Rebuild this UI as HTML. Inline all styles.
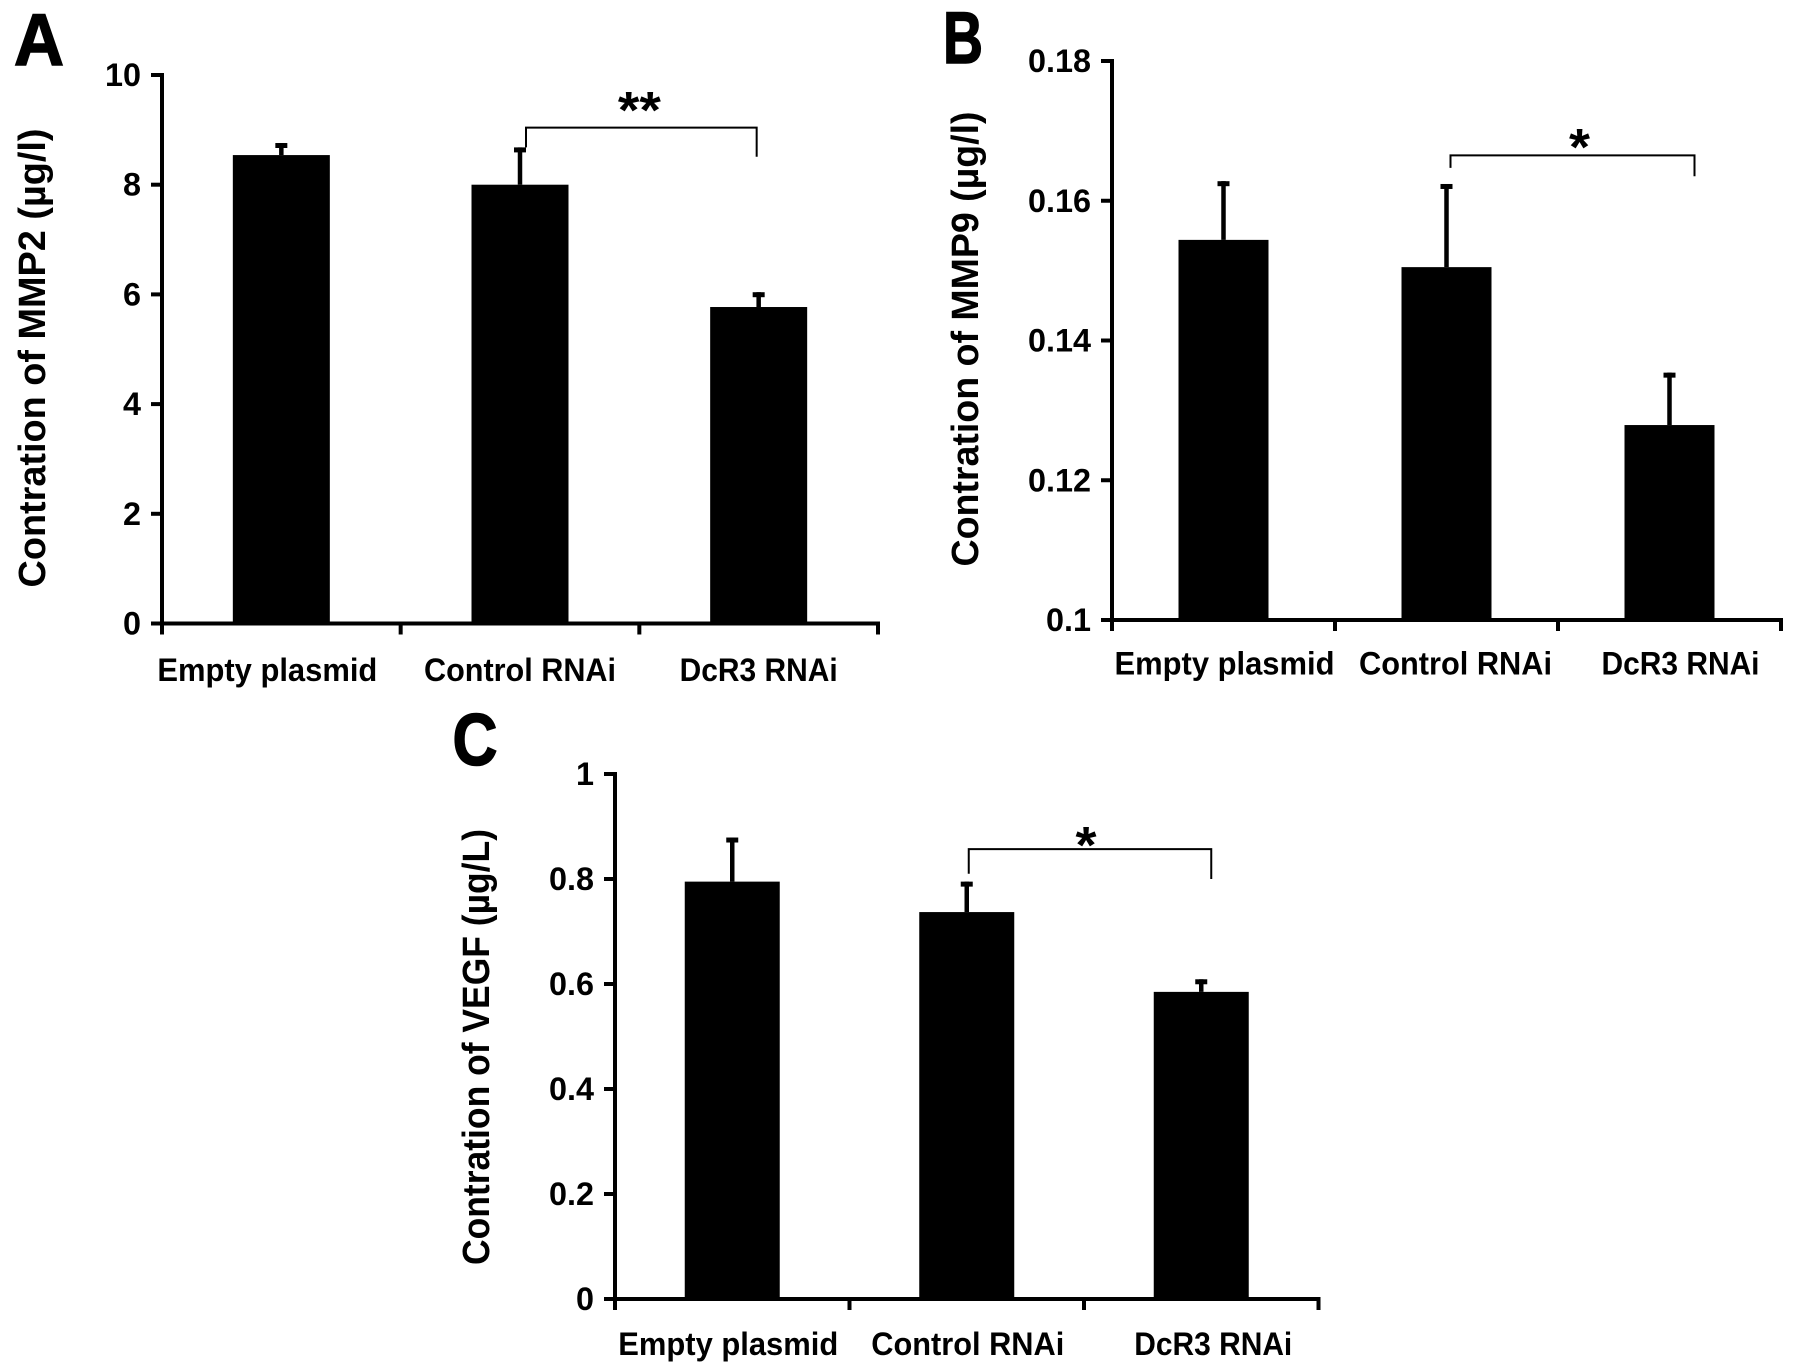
<!DOCTYPE html>
<html lang="en">
<head>
<meta charset="utf-8">
<title>MMP2, MMP9 and VEGF concentration bar charts</title>
<style>
html,body{margin:0;padding:0;background:#fff;}
#figure{display:block;width:1795px;height:1368px;}
text{font-family:"Liberation Sans",sans-serif;font-weight:bold;fill:#000;}
</style>
</head>
<body>
<svg id="figure" xmlns="http://www.w3.org/2000/svg" width="1795" height="1368" viewBox="0 0 1795 1368">
<rect x="0" y="0" width="1795" height="1368" fill="#fff"></rect>
</svg>
<script>
const categories = ['Empty plasmid', 'Control RNAi', 'DcR3 RNAi'];

const panelAValues = [8.54, 8.0, 5.77];
const panelAErrorTops = [8.76, 8.68, 6.04];
const panelATicks = ['0', '2', '4', '6', '8', '10'];

const panelBValues = [0.1544, 0.1505, 0.1279];
const panelBErrorTops = [0.1628, 0.1624, 0.1354];
const panelBTicks = ['0.1', '0.12', '0.14', '0.16', '0.18'];

const panelCValues = [0.795, 0.737, 0.585];
const panelCErrorTops = [0.879, 0.795, 0.609];
const panelCTicks = ['0', '0.2', '0.4', '0.6', '0.8', '1'];

const panels = [
  {id:'a', letter:'A', letterX:14, letterY:65, letterW:50,
   title:'Contration of MMP2 (µg/l)', titleX:45, titleMid:358, titleLen:459,
   values:panelAValues, errs:panelAErrorTops, ticks:panelATicks,
   left:162, right:878, top:75, bottom:623.5, barW:97,
   labelDx:[-14,0,0], labelW:[220,192,158], labelY:681,
   stars:'**', starsW:43, starsBase:128, starsDx:-4, bracketValue:9.04, bracketLeftEnd:8.68, bracketRightEnd:8.51, bracketLeftDx:6, bracketRightDx:-2},
  {id:'b', letter:'B', letterX:943, letterY:63, letterW:40,
   title:'Contration of MMP9 (µg/l)', titleX:978, titleMid:339, titleLen:455,
   values:panelBValues, errs:panelBErrorTops, ticks:panelBTicks,
   left:1112, right:1781, top:61, bottom:620, barW:90,
   labelDx:[1,9,11], labelW:[220,193,158], labelY:674.5,
   stars:'*', starsW:21, starsBase:165, starsDx:5, bracketValue:0.1665, bracketLeftEnd:0.1647, bracketRightEnd:0.1635, bracketLeftDx:4, bracketRightDx:25},
  {id:'c', letter:'C', letterX:452.5, letterY:765, letterW:45,
   title:'Contration of VEGF (µg/L)', titleX:489, titleMid:1047, titleLen:436,
   values:panelCValues, errs:panelCErrorTops, ticks:panelCTicks,
   left:615, right:1318.5, top:774, bottom:1299, barW:95,
   labelDx:[-4,1,12], labelW:[220,193,158], labelY:1355,
   stars:'*', starsW:21, starsBase:863, starsDx:-6, bracketValue:0.857, bracketLeftEnd:0.81, bracketRightEnd:0.8, bracketLeftDx:2, bracketRightDx:10}
];

const NS = 'http://www.w3.org/2000/svg';
const svg = document.getElementById('figure');

function make(tag, attrs, parent) {
  const el = document.createElementNS(NS, tag);
  for (const k in attrs) el.setAttribute(k, attrs[k]);
  parent.appendChild(el);
  return el;
}

panels.forEach(function (p) {
  const tickNums = p.ticks.map(Number);
  const yMin = Math.min.apply(null, tickNums);
  const yMax = Math.max.apply(null, tickNums);
  const yScale = function (v) { return p.bottom - (v - yMin) / (yMax - yMin) * (p.bottom - p.top); };
  const band = (p.right - p.left) / categories.length;
  const xScale = function (i) { return p.left + band * (i + 0.5); };

  const g = make('g', {}, svg);
  
  

  const letter = make('text', {x:p.letterX, y:p.letterY, 'font-size':73, stroke:'#000', 'stroke-width':1.5, textLength:p.letterW, lengthAdjust:'spacingAndGlyphs'}, g);
  letter.textContent = p.letter;
  
  

  const title = make('text', {x:0, y:0, 'font-size':38, 'text-anchor':'middle', textLength:p.titleLen, lengthAdjust:'spacingAndGlyphs', transform:'translate(' + p.titleX + ',' + p.titleMid + ') rotate(-90)'}, g);
  title.textContent = p.title;
  
  

  p.values.forEach(function (v, i) {
    const cx = xScale(i);
    const bar = make('rect', {x:cx - p.barW / 2, y:yScale(v), width:p.barW, height:p.bottom - yScale(v), fill:'#000'}, g);
    
    

    const err = make('line', {x1:cx, x2:cx, y1:yScale(v), y2:yScale(p.errs[i]), stroke:'#000', 'stroke-width':4.5}, g);
    
    

    const cap = make('line', {x1:cx - 6, x2:cx + 6, y1:yScale(p.errs[i]) + 2.5, y2:yScale(p.errs[i]) + 2.5, stroke:'#000', 'stroke-width':5}, g);
    
    

    const label = make('text', {x:cx + p.labelDx[i], y:p.labelY, 'font-size':32, 'text-anchor':'middle', textLength:p.labelW[i], lengthAdjust:'spacingAndGlyphs'}, g);
    label.textContent = categories[i];
    
    
  });

  const yAxis = make('line', {x1:p.left, x2:p.left, y1:p.top - 2, y2:p.bottom + 2, stroke:'#000', 'stroke-width':4}, g);
  
  

  const xAxis = make('line', {x1:p.left - 2, x2:p.right + 2, y1:p.bottom, y2:p.bottom, stroke:'#000', 'stroke-width':4}, g);
  
  

  p.ticks.forEach(function (t, i) {
    const y = yScale(Number(t));
    const tick = make('line', {x1:p.left - 11, x2:p.left, y1:y, y2:y, stroke:'#000', 'stroke-width':4}, g);
    
    

    const dots = t.split('.').length - 1;
    const label = make('text', {x:p.left - 21, y:y + 11, 'font-size':32, 'text-anchor':'end', textLength:(t.length - dots) * 18 + dots * 9, lengthAdjust:'spacingAndGlyphs'}, g);
    label.textContent = t;
    
    
  });

  for (let i = 0; i <= categories.length; i++) {
    const x = p.left + band * i;
    const tick = make('line', {x1:x, x2:x, y1:p.bottom, y2:p.bottom + 11, stroke:'#000', 'stroke-width':4}, g);
    
    
  }

  const bx1 = xScale(1) + p.bracketLeftDx;
  const bx2 = xScale(2) + p.bracketRightDx;
  const bracket = make('path', {d:'M' + bx1 + ' ' + yScale(p.bracketLeftEnd) + 'V' + yScale(p.bracketValue) + 'H' + bx2 + 'V' + yScale(p.bracketRightEnd), fill:'none', stroke:'#000', 'stroke-width':2}, g);
  
  

  const stars = make('text', {x:(bx1 + bx2) / 2 + 2 + p.starsDx, y:p.starsBase, 'font-size':52, 'text-anchor':'middle', textLength:p.starsW, lengthAdjust:'spacingAndGlyphs'}, g);
  stars.textContent = p.stars;
  
  
});
</script>
</body>
</html>
